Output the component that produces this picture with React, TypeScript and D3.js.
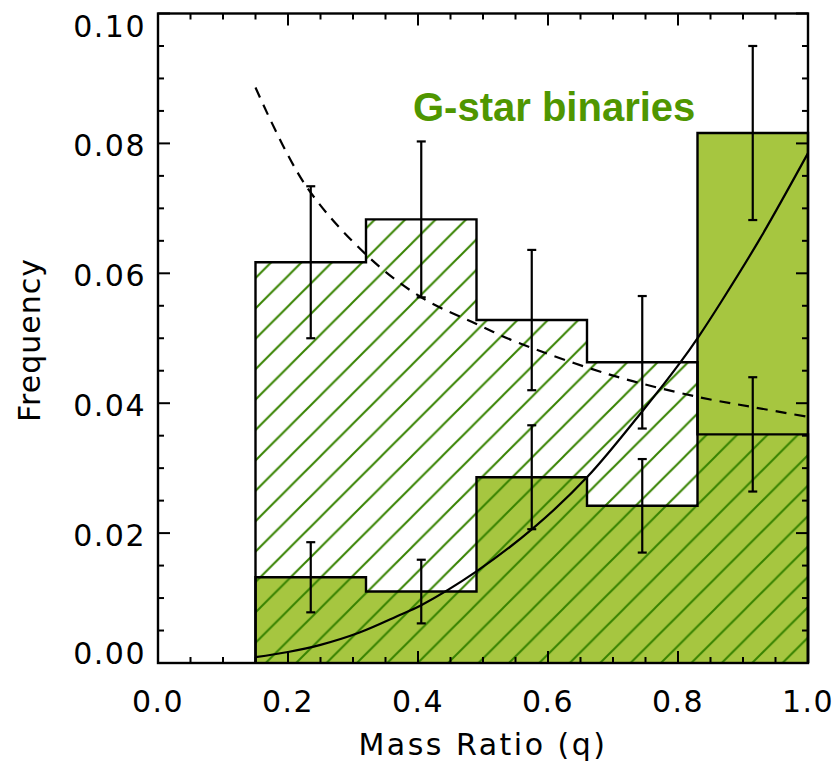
import React from "react";
import * as d3 from "d3";

// Histogram bin edges in mass ratio q
const binEdges = [0.15, 0.32, 0.49, 0.66, 0.83, 1.0];
// All binaries (hatched histogram) and their uncertainties
const allFreq = [0.0617, 0.0683, 0.0528, 0.0463, 0.0352];
const allErr = [0.0117, 0.012, 0.0108, 0.0102, 0.0088];
// G-star binaries (solid histogram) and their uncertainties
const gFreq = [0.0132, 0.011, 0.0286, 0.0242, 0.0816];
const gErr = [0.0054, 0.0049, 0.008, 0.0072, 0.0134];

// Model curves sampled along q
const dashQ = [0.15, 0.226, 0.321, 0.405, 0.49, 0.552, 0.695, 0.829, 0.915, 1.0];
const dashF = [0.0886, 0.0737, 0.0628, 0.0563, 0.0522, 0.0494, 0.0444, 0.041, 0.0394, 0.0379];
const solidQ = [0.15, 0.2, 0.25, 0.31, 0.372, 0.405, 0.49, 0.58, 0.661, 0.747, 0.803, 0.832, 0.867, 0.926, 1.0];
const solidF = [0.0009, 0.0017, 0.0028, 0.0047, 0.0074, 0.0089, 0.0141, 0.021, 0.0287, 0.039, 0.0462, 0.0503, 0.0557, 0.0653, 0.0785];

const xTicks = [0, 0.2, 0.4, 0.6, 0.8, 1.0];
const yTicks = [0, 0.02, 0.04, 0.06, 0.08, 0.1];

const W = 838;
const H = 762;
const L = 158, R = 808, T = 13.5, B = 663;

const FILL = "#a6c640";
const HATCH = "#368200";
const TITLE = "#4f9600";
const FONT = "'DejaVu Sans', sans-serif";

export default function App() {
  const x = d3.scaleLinear().domain([0, 1]).range([L, R]);
  const y = d3.scaleLinear().domain([0, 0.1]).range([B, T]);

  const stepPath = (vals: number[]) => {
    const p = d3.path();
    p.moveTo(x(binEdges[0]), y(0));
    vals.forEach((v, i) => {
      p.lineTo(x(binEdges[i]), y(v));
      p.lineTo(x(binEdges[i + 1]), y(v));
    });
    p.lineTo(x(binEdges[binEdges.length - 1]), y(0));
    return p.toString();
  };
  const areaPath = (vals: number[]) => stepPath(vals) + "Z";

  const line = d3
    .line<[number, number]>()
    .x((d) => x(d[0]))
    .y((d) => y(d[1]))
    .curve(d3.curveCatmullRom.alpha(0.5));
  const dashPts = dashQ.map((q, i) => [q, dashF[i]] as [number, number]);
  const solidPts = solidQ.map((q, i) => [q, solidF[i]] as [number, number]);

  const centers = binEdges.slice(0, -1).map((e, i) => (e + binEdges[i + 1]) / 2);

  const errBars = (vals: number[], errs: number[], key: string) =>
    vals.map((v, i) => {
      const cx = x(centers[i]);
      const y1 = y(v + errs[i]);
      const y2 = y(v - errs[i]);
      return (
        <g key={key + i} stroke="#000" strokeWidth={2.2}>
          <line x1={cx} x2={cx} y1={y1} y2={y2} />
          <line x1={cx - 4.5} x2={cx + 4.5} y1={y1} y2={y1} />
          <line x1={cx - 4.5} x2={cx + 4.5} y1={y2} y2={y2} />
        </g>
      );
    });

  const xMinor = d3.range(0, 1.0001, 0.05);
  const yMinor = d3.range(0, 0.10001, 0.005);
  const isMajorX = (v: number) => Math.abs(v * 5 - Math.round(v * 5)) < 1e-6;
  const isMajorY = (v: number) => Math.abs(v * 50 - Math.round(v * 50)) < 1e-6;

  const hs = 30.4;

  return (
    <svg
      width={W}
      height={H}
      style={{ position: "absolute", left: 0, top: 0, background: "#fff" }}
    >
      <defs>
        <pattern
          id="hatch"
          patternUnits="userSpaceOnUse"
          width={hs}
          height={hs}
          x={16.7}
          y={0}
        >
          <line x1={-2} y1={hs + 2} x2={hs + 2} y2={-2} stroke={HATCH} strokeWidth={2} />
          <line x1={-2} y1={2} x2={2} y2={-2} stroke={HATCH} strokeWidth={2} />
          <line x1={hs - 2} y1={hs + 2} x2={hs + 2} y2={hs - 2} stroke={HATCH} strokeWidth={2} />
        </pattern>
      </defs>

      {/* solid G-star histogram */}
      <path d={areaPath(gFreq)} fill={FILL} stroke="none" />
      {/* hatched histogram of all binaries */}
      <path d={areaPath(allFreq)} fill="url(#hatch)" stroke="none" />

      {/* outlines */}
      <path d={stepPath(allFreq)} fill="none" stroke="#000" strokeWidth={2.4} />
      <path d={stepPath(gFreq)} fill="none" stroke="#000" strokeWidth={2.4} />

      {/* model curves */}
      <path d={line(dashPts) || ""} fill="none" stroke="#000" strokeWidth={2.2} strokeDasharray="11,8" />
      <path d={line(solidPts) || ""} fill="none" stroke="#000" strokeWidth={2.2} />

      {errBars(allFreq, allErr, "a")}
      {errBars(gFreq, gErr, "g")}

      {/* frame */}
      <rect x={L} y={T} width={R - L} height={B - T} fill="none" stroke="#000" strokeWidth={2.4} />

      {/* x ticks, bottom and top */}
      {xMinor.map((v, i) => {
        const len = isMajorX(v) ? 12 : 6;
        return (
          <g key={"xt" + i} stroke="#000" strokeWidth={2}>
            <line x1={x(v)} x2={x(v)} y1={B} y2={B - len} />
            <line x1={x(v)} x2={x(v)} y1={T} y2={T + len} />
          </g>
        );
      })}
      {/* y ticks, left and right */}
      {yMinor.map((v, i) => {
        const len = isMajorY(v) ? 12 : 6;
        return (
          <g key={"yt" + i} stroke="#000" strokeWidth={2}>
            <line x1={L} x2={L + len} y1={y(v)} y2={y(v)} />
            <line x1={R} x2={R - len} y1={y(v)} y2={y(v)} />
          </g>
        );
      })}

      {/* tick labels */}
      {xTicks.map((v, i) => (
        <text
          key={"xl" + i}
          x={x(v)}
          y={712}
          textAnchor="middle"
          fontFamily={FONT}
          fontSize={30}
          letterSpacing={1.5}
          fill="#000"
        >
          {v.toFixed(1)}
        </text>
      ))}
      {yTicks.map((v, i) => {
        let cy = y(v) + 2;
        if (i === 0) cy = y(v) - 10;
        if (i === yTicks.length - 1) cy = y(v) + 12;
        return (
          <text
            key={"yl" + i}
            x={146}
            y={cy + 11}
            textAnchor="end"
            fontFamily={FONT}
            fontSize={30}
            letterSpacing={1.5}
            fill="#000"
          >
            {v.toFixed(2)}
          </text>
        );
      })}

      {/* axis titles */}
      <text
        x={483}
        y={755}
        textAnchor="middle"
        fontFamily={FONT}
        fontSize={30}
        letterSpacing={2.5}
        fill="#000"
      >
        Mass Ratio (q)
      </text>
      <text
        transform="translate(40,340) rotate(-90)"
        textAnchor="middle"
        fontFamily={FONT}
        fontSize={30}
        letterSpacing={1}
        fill="#000"
      >
        Frequency
      </text>

      <text
        x={413}
        y={121}
        fontFamily="'Liberation Sans', Arial, sans-serif"
        fontWeight="bold"
        fontSize={40}
        fill={TITLE}
      >
        G-star binaries
      </text>
    </svg>
  );
}
